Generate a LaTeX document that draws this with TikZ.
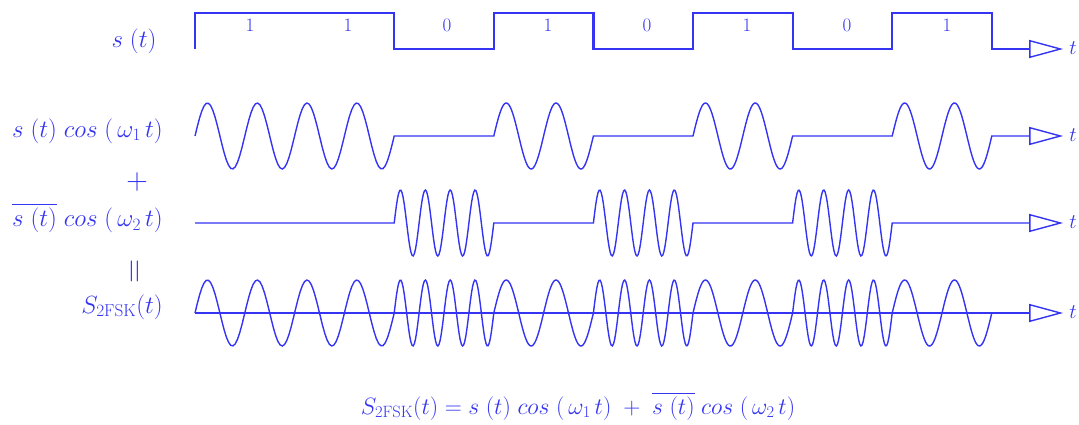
\documentclass[tikz,border=0pt]{standalone}
\usepackage{amsmath}
\usepackage{graphicx}
\usepackage{xcolor}
\definecolor{azulFSK}{HTML}{3434F2}
\usepackage{tikz}
\usetikzlibrary{arrows.meta}

\begin{document}
\begin{tikzpicture}[x=1pt,y=-1pt,color=azulFSK,
  senal/.style={line width=2.2pt,line join=miter},
  onda/.style={line width=1.4pt,samples=90},
  eje/.style={-{Triangle[open,length=34pt,width=18pt,line width=1.4pt]},shorten >=6pt},
  etq/.style={font=\fontsize{25}{30}\selectfont,inner sep=0pt},
  bit/.style={font=\fontsize{19}{22}\selectfont,inner sep=0pt}]

\useasboundingbox (0,0) rectangle (1079,425);

% Etiquetas de la izquierda
\node[etq] (s) at (134,41) {$s\;(t)$};
\node[etq,anchor=east] (s1) at (163,131) {$s\;(t)\;cos\;(\,\omega_{1}\,t)$};
\node[etq] (mas) at (137,182) {\scalebox{1.2}{$+$}};
\node[etq,anchor=east] (s2) at (163,218) {$\overline{s\;(t)}\;cos\;(\,\omega_{2}\,t)$};
\node[etq,rotate=90] (igual) at (137,271) {\scalebox{1.35}{$=$}};
\node[etq,anchor=east] (sfsk) at (163,307) {$S_{\mathrm{2FSK}}(t)$};

% Ejes t
\node[etq,font=\fontsize{22}{26}\selectfont] (t1) at (1073,48) {$t$};
\node[etq,font=\fontsize{22}{26}\selectfont] (t2) at (1073,135) {$t$};
\node[etq,font=\fontsize{22}{26}\selectfont] (t3) at (1073,222) {$t$};
\node[etq,font=\fontsize{22}{26}\selectfont] (t4) at (1073,312) {$t$};
\coordinate (o4) at (195,313);

% Bits
\node[bit] (b1) at (250,25) {1};
\node[bit] (b2) at (348,25) {1};
\node[bit] (b3) at (447,25) {0};
\node[bit] (b4) at (548,25) {1};
\node[bit] (b5) at (647,25) {0};
\node[bit] (b6) at (747,25) {1};
\node[bit] (b7) at (847,25) {0};
\node[bit] (b8) at (947,25) {1};

% s(t)
\draw[senal,eje]
  (195,49) -- (195,13) -- (394.2,13) -- (394.2,49) -- (493.8,49)
  -- (493.8,13) -- (593.4,13) -- (593.4,49) -- (693,49)
  -- (693,13) -- (792.6,13) -- (792.6,49) -- (892.2,49)
  -- (892.2,13) -- (991.8,13) -- (991.8,49) -- (t1.west |- 0,49);

% s(t) cos(w1 t)   (7.2289 = 720/99.6, 14.4578 = 1440/99.6)
\draw[onda,eje]
  plot[domain=195:394.2] (\x,{136-33*sin(7.2289*(\x-195))})
  -- (493.8,136)
  -- plot[domain=493.8:593.4] (\x,{136-33*sin(7.2289*(\x-493.8))})
  -- (693,136)
  -- plot[domain=693:792.6] (\x,{136-33*sin(7.2289*(\x-693))})
  -- (892.2,136)
  -- plot[domain=892.2:991.8] (\x,{136-33*sin(7.2289*(\x-892.2))})
  -- (t2.west |- 0,136);

% s(t) negada cos(w2 t)
\draw[onda,eje]
  (195,223) -- (394.2,223)
  -- plot[domain=394.2:493.8] (\x,{223-33*sin(14.4578*(\x-394.2))})
  -- (593.4,223)
  -- plot[domain=593.4:693] (\x,{223-33*sin(14.4578*(\x-593.4))})
  -- (792.6,223)
  -- plot[domain=792.6:892.2] (\x,{223-33*sin(14.4578*(\x-792.6))})
  -- (t3.west |- 0,223);

% Suma 2FSK
\draw[onda,eje] (o4) -- (t4.west |- o4);
\draw[onda]
  plot[domain=195:394.2] (\x,{313-33*sin(7.2289*(\x-195))})
  -- plot[domain=394.2:493.8] (\x,{313-33*sin(14.4578*(\x-394.2))})
  -- plot[domain=493.8:593.4] (\x,{313-33*sin(7.2289*(\x-493.8))})
  -- plot[domain=593.4:693] (\x,{313-33*sin(14.4578*(\x-593.4))})
  -- plot[domain=693:792.6] (\x,{313-33*sin(7.2289*(\x-693))})
  -- plot[domain=792.6:892.2] (\x,{313-33*sin(14.4578*(\x-792.6))})
  -- plot[domain=892.2:991.8] (\x,{313-33*sin(7.2289*(\x-892.2))});

% Formula
\node[etq] (formula) at (578,406)
  {\scalebox{0.95}{$S_{\mathrm{2FSK}}(t)=s\;(t)\;cos\;(\,\omega_{1}\,t)\;+\;\overline{s\;(t)}\;cos\;(\,\omega_{2}\,t)$}};

\end{tikzpicture}
\end{document}
